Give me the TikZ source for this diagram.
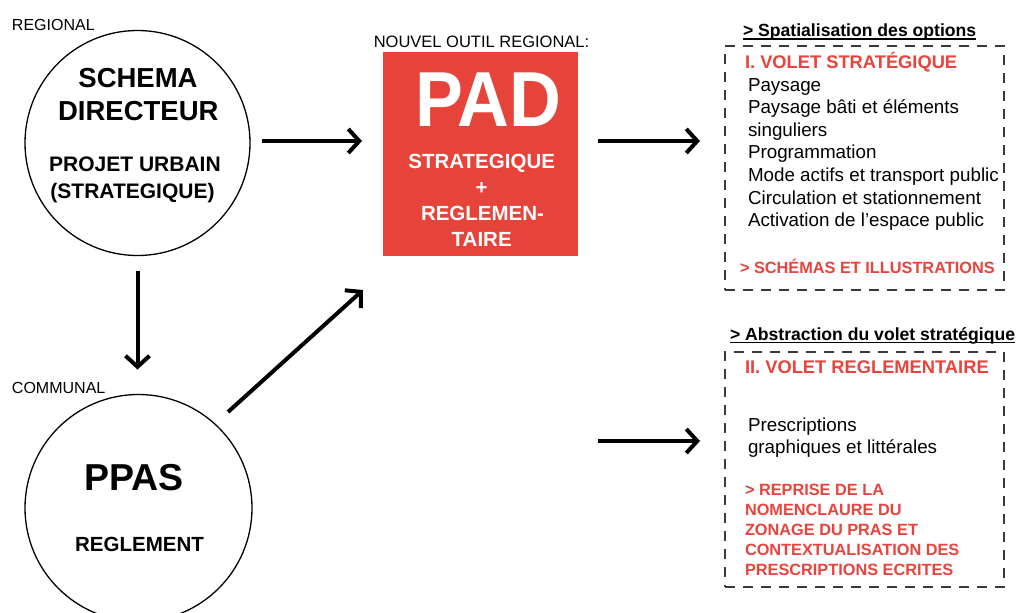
\documentclass[tikz,border=0pt]{standalone}
\usepackage{fontspec}
\usepackage{graphicx}
\setmainfont{Liberation Sans}
\usetikzlibrary{arrows.meta}
\definecolor{padred}{HTML}{E6433A}
\definecolor{txtred}{HTML}{E8433D}
\definecolor{dashgray}{HTML}{3A3A3A}
\newcommand\fsz[1]{\fontsize{#1}{#1}\selectfont}
\tikzset{
  tl/.style={inner sep=0pt, outer sep=0pt, anchor=base west},
  tc/.style={inner sep=0pt, outer sep=0pt, anchor=base},
  ring/.style={circle, draw=black, line width=1.3pt, inner sep=0pt, outer sep=0pt},
  dbox/.style={draw=dashgray, line width=1.4pt, dash pattern=on 10pt off 8pt, inner sep=0pt, outer sep=0pt},
  padbox/.style={fill=padred, inner sep=0pt, outer sep=0pt, minimum width=195pt, minimum height=204pt},
  arr/.style={line width=4pt, -{Straight Barb[length=11pt,width=24pt]}},
  redb/.style={tl, text=txtred, font=\fsz{16.3}\bfseries},
  item/.style={tl, font=\fsz{18.8}},
  head/.style={tl, font=\fsz{17.6}\bfseries},
}
\begin{document}
\begin{tikzpicture}[x=1pt,y=-1pt]
\useasboundingbox (0,0) rectangle (1018,613);
\fill[white] (0,0) rectangle (1018,613);

% circles
\node[ring, minimum size=225pt] (c1) at (137.5,143) {};
\node[ring, minimum size=227pt] (c2) at (138.5,508) {};

\node[tl, font=\fsz{16}] (lreg) at (12,30.7) {REGIONAL};
\node[tl, font=\fsz{16}] (lcom) at (12,393) {COMMUNAL};

\node[tc, font=\fsz{27.5}\bfseries] (t1) at (138,87.3) {SCHEMA};
\node[tc, font=\fsz{27.5}\bfseries] (t2) at (138.3,120.7) {DIRECTEUR};
\node[tc, font=\fsz{21}\bfseries] (t3) at (135,171.7) {PROJET URBAIN};
\node[tc, font=\fsz{21}\bfseries] (t4) at (132.5,198.3) {(STRATEGIQUE)};

\node[tc, font=\fsz{37.5}\bfseries] (t5) at (134,490) {PPAS};
\node[tc, font=\fsz{20.5}\bfseries] (t6) at (139.5,551.7) {REGLEMENT};

% PAD
\node[tc, font=\fsz{16.5}] (lnou) at (481.5,47.5) {NOUVEL OUTIL REGIONAL:};
\node[padbox] (pad) at (480.5,154) {};
\node[tc, text=white, font=\fsz{78}\bfseries] (p1) at (488.5,126.7) {\scalebox{0.92}[1]{PAD}};
\node[tc, text=white, font=\fsz{20.5}\bfseries] (p2) at (481.7,168.3) {STRATEGIQUE};
\node[tc, text=white, font=\fsz{20.5}\bfseries] (p3) at (481.7,194.3) {+};
\node[tc, text=white, font=\fsz{20.5}\bfseries] (p4) at (482.5,220.3) {REGLEMEN-};
\node[tc, text=white, font=\fsz{20.5}\bfseries] (p5) at (481.7,246.7) {TAIRE};

% right boxes
\node[dbox, minimum width=279pt, minimum height=244pt] (box1) at (864.5,168) {};
\node[dbox, minimum width=279pt, minimum height=235pt] (box2) at (864.5,469.5) {};

\node[head] (h1) at (743,36.5) {> Spatialisation des options};
\draw[line width=1.4pt] ([yshift=-2.6pt]h1.base west) -- ([yshift=-2.6pt]h1.base east);
\node[head] (h2) at (730,340) {> Abstraction du volet stratégique};
\draw[line width=1.4pt] ([yshift=-2.6pt]h2.base west) -- ([yshift=-2.6pt]h2.base east);

\node[tl, text=txtred, font=\fsz{18.3}\bfseries] (v1) at (745,68) {I. VOLET STRATÉGIQUE};
\foreach \txt [count=\k from 0] in {Paysage, Paysage bâti et éléments, singuliers, Programmation, Mode actifs et transport public, Circulation et stationnement, Activation de l’espace public}
  \node[item] (i\k) at (748,91+22.6*\k) {\txt};
\node[redb] (s1) at (740,273) {> SCHÉMAS ET ILLUSTRATIONS};

\node[tl, text=txtred, font=\fsz{18.3}\bfseries] (v2) at (745,373) {II. VOLET REGLEMENTAIRE};
\node[item] (j0) at (748,431) {Prescriptions};
\node[item] (j1) at (748,453.6) {graphiques et littérales};
\foreach \txt [count=\k from 0] in {> REPRISE DE LA, NOMENCLAURE DU, ZONAGE DU PRAS ET, CONTEXTUALISATION DES, PRESCRIPTIONS ECRITES}
  \node[redb] (r\k) at (745,495+20*\k) {\txt};

% arrows
\draw[arr, shorten <=12pt, shorten >=21pt] (c1.east |- 0,141) -- (pad.west |- 0,141);
\draw[arr, shorten <=20pt, shorten >=25pt] (pad.east |- 0,141) -- (box1.west |- 0,141);
\draw[arr, shorten <=15pt, shorten >=25pt] (c1.south) -- (c1.south |- c2.north);
\coordinate (a4s) at (228,412);
\coordinate (a4e) at (363,290);
\draw[arr] (a4s) -- (a4e);
\coordinate (a5s) at (598,441);
\draw[arr, shorten >=25pt] (a5s) -- (box2.west |- a5s);
\end{tikzpicture}
\end{document}
